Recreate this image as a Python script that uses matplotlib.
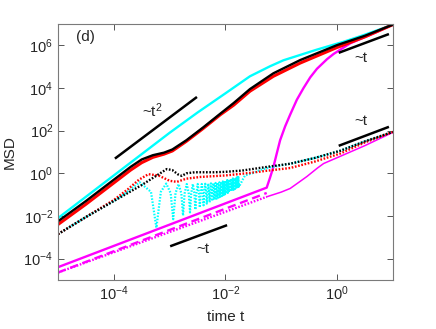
import numpy as np
import matplotlib
matplotlib.use("Agg")
import matplotlib.pyplot as plt
from matplotlib.ticker import LogFormatterMathtext, NullLocator

plt.rcParams['font.family'] = ['Liberation Sans', 'DejaVu Sans']
plt.rcParams['mathtext.fontset'] = 'custom'
plt.rcParams['mathtext.rm'] = 'Liberation Sans'
plt.rcParams['mathtext.it'] = 'Liberation Sans:italic'

# ---- data (log10 time, log10 MSD) ----
cyan_solid_lt = [-5, -4, -3, -2.5, -2, -1.56, -1.2, -0.96, -0.6, -0.36, 0.12, 0.5, 1.0]
cyan_solid_lm = [-2.1, -0.1, 1.9, 2.85, 3.75, 4.55, 5.02, 5.3, 5.6, 5.8, 6.17, 6.5, 6.97]

black_solid_lt = [-5, -4.5, -4, -3.7, -3.5, -3.3, -3.1, -2.95, -2.7, -2.4, -2.09, -1.85, -1.56,
                  -1.14, -0.66, 0.0, 0.5, 1.0]
black_solid_lm = [-2.25, -1.3, -0.3, 0.3, 0.65, 0.85, 0.97, 1.12, 1.55, 2.15, 2.8, 3.3, 3.95,
                  4.69, 5.31, 6.01, 6.45, 6.97]

red_solid_lt = [-5, -4.5, -4, -3.7, -3.5, -3.3, -3.1, -2.95, -2.7, -2.4, -2.09, -1.85, -1.56,
                -1.14, -0.66, 0.0, 0.5, 1.0]
red_solid_lm = [-2.4, -1.45, -0.45, 0.15, 0.5, 0.75, 0.9, 1.05, 1.5, 2.1, 2.75, 3.2, 3.85,
                4.55, 5.17, 5.9, 6.4, 6.97]

black_dot_lt = [-5, -4.5, -4, -3.5, -3.2, -3.05, -2.95, -2.85, -2.78, -2.7, -2.55, -2.45, -2.2,
                -2.0, -1.7, -1.26, -0.84, -0.4, 0.06, 0.5, 1.0]
black_dot_lm = [-2.85, -2.05, -1.3, -0.55, -0.05, 0.2, 0.15, -0.05, -0.12, 0.0, 0.05, 0.05, 0.05,
                0.07, 0.13, 0.3, 0.45, 0.72, 1.06, 1.5, 1.94]

red_dot_lt = [-5, -4.5, -4, -3.75, -3.55, -3.38, -3.2, -3.0, -2.87, -2.7, -2.45, -2.0, -1.56,
              -1.26, -0.84, -0.4, 0.06, 0.5, 1.0]
red_dot_lm = [-2.85, -2.05, -1.25, -0.75, -0.3, -0.04, -0.1, -0.35, -0.4, -0.25, -0.17, -0.1, 0.02,
              0.12, 0.25, 0.55, 0.93, 1.45, 1.94]

# cyan dotted: early rise, then oscillation troughs/peaks, then smooth rise
cyan_dot_early_lt = [-5, -4.5, -4, -3.8, -3.7, -3.6]
cyan_dot_early_lm = [-2.85, -2.05, -1.3, -0.95, -0.75, -0.55]
cyan_trough_t = [5.8e-4, 1.16e-3, 1.74e-3, 2.32e-3, 2.9e-3, 3.48e-3, 4.06e-3, 4.64e-3, 5.22e-3,
                 5.8e-3, 6.38e-3, 6.96e-3, 7.54e-3, 8.12e-3, 8.7e-3, 9.28e-3, 9.86e-3, 1.044e-2,
                 1.102e-2, 1.16e-2, 1.218e-2, 1.276e-2, 1.334e-2, 1.392e-2, 1.45e-2, 1.508e-2,
                 1.566e-2, 1.624e-2, 1.682e-2, 1.74e-2]
cyan_trough_lm = [-2.55, -2.15, -1.98, -1.83, -1.70, -1.60, -1.50, -1.42, -1.36, -1.30, -1.24,
                  -1.19, -1.14, -1.10, -1.06, -1.02, -0.98, -0.95, -0.92, -0.89, -0.86, -0.83,
                  -0.80, -0.77, -0.74, -0.71, -0.68, -0.65, -0.62, -0.6]
cyan_peak_t = [2.9e-4, 8.7e-4, 1.45e-3, 2.03e-3, 2.61e-3, 3.19e-3, 3.77e-3, 4.35e-3, 4.93e-3,
               5.51e-3, 6.09e-3, 6.67e-3, 7.25e-3, 7.83e-3, 8.41e-3, 8.99e-3, 9.57e-3, 1.015e-2,
               1.073e-2, 1.131e-2, 1.189e-2, 1.247e-2, 1.305e-2, 1.363e-2, 1.421e-2, 1.479e-2,
               1.537e-2, 1.595e-2, 1.653e-2, 1.711e-2]
cyan_peak_lm = [-0.42, -0.48, -0.5, -0.5, -0.5, -0.5, -0.5, -0.49, -0.48, -0.47, -0.46, -0.45,
                -0.44, -0.42, -0.4, -0.38, -0.36, -0.34, -0.32, -0.3, -0.28, -0.26, -0.25, -0.24,
                -0.23, -0.22, -0.21, -0.2, -0.19, -0.18]
cyan_dot_late_lt = [-1.65, -1.5, -1.38, -1.2, -0.84, -0.4, 0.06, 0.5, 1.0]
cyan_dot_late_lm = [-0.1, 0.02, 0.15, 0.28, 0.45, 0.72, 1.06, 1.5, 1.94]

mag_solid_lt = [-5, -1.26, -1.2, -1.14, -1.08, -1.02, -0.93, -0.84, -0.72, -0.6, -0.48, -0.36,
                -0.18, -0.06, 0.24, 0.6, 1.0]
mag_solid_lm = [-4.4, -0.67, -0.2, 0.3, 0.93, 1.55, 2.2, 2.75, 3.45, 4.0, 4.5, 4.9,
                5.35, 5.6, 6.1, 6.5, 6.97]

mag_dash_lt = [-5, -1.26]
mag_dash_lm = [-4.65, -0.92]

mag_dot_lt = [-5, -1.26]
mag_dot_lm = [-4.65, -1.1]
mag_thin_lt = [-1.26, -1.0, -0.84, -0.7, -0.54, -0.35, -0.24, 0.06, 0.5, 1.0]
mag_thin_lm = [-1.1, -0.88, -0.71, -0.45, -0.15, 0.25, 0.46, 0.8, 1.3, 1.92]

# guide lines (slopes) and their labels
guide_t2_lt = [-3.98, -2.51]
guide_t2_lm = [0.69, 3.58]
guide_t_up_lt = [0.03, 0.93]
guide_t_up_lm = [5.65, 6.53]
guide_t_mid_lt = [0.03, 0.93]
guide_t_mid_lm = [1.29, 2.18]
guide_t_low_lt = [-2.99, -1.97]
guide_t_low_lm = [-3.42, -2.43]

x_ticks = [1e-4, 1e-2, 1e0]
y_ticks = [1e-4, 1e-2, 1e0, 1e2, 1e4, 1e6]


def p(lt, lm):
    return 10 ** np.asarray(lt, dtype=float), 10 ** np.asarray(lm, dtype=float)


fig = plt.figure(figsize=(4.36, 3.29), dpi=100)
ax = fig.add_axes([0.133, 0.149, 0.768, 0.778])

CYAN = '#00FFFF'
RED = '#FF0000'
MAG = '#FF00FF'
LW = 1.7
dot = (0, (0.7, 0.7))

# magenta group
ax.plot(*p(mag_dot_lt, mag_dot_lm), color=MAG, lw=1.7, linestyle=dot)
ax.plot(*p(mag_thin_lt, mag_thin_lm), color=MAG, lw=1.1)
ax.plot(*p(mag_dash_lt, mag_dash_lm), color=MAG, lw=LW, linestyle=(0, (3.5, 2)))
ax.plot(*p(mag_solid_lt, mag_solid_lm), color=MAG, lw=LW)

# cyan dotted oscillating curve (sharp dips between rounded maxima)
c_lt = list(cyan_dot_early_lt)
c_lm = list(cyan_dot_early_lm)
T_half = cyan_peak_t[0]
for tp, mp, tt, mt in zip(cyan_peak_t, cyan_peak_lm, cyan_trough_t, cyan_trough_lm):
    c_lt += [np.log10(tp), np.log10(tt - 0.4 * T_half), np.log10(tt),
             np.log10(tt + 0.4 * T_half)]
    c_lm += [mp, mp - 0.45, mt, mp - 0.45]
c_lt += cyan_dot_late_lt
c_lm += cyan_dot_late_lm
ax.plot(*p(c_lt, c_lm), color=CYAN, lw=1.6, linestyle=dot)
ax.plot(*p(red_dot_lt, red_dot_lm), color=RED, lw=1.7, linestyle=dot)
ax.plot(*p(black_dot_lt, black_dot_lm), color='black', lw=1.7, linestyle=dot)

# solid group
ax.plot(*p(cyan_solid_lt, cyan_solid_lm), color=CYAN, lw=LW)
ax.plot(*p(red_solid_lt, red_solid_lm), color=RED, lw=2.2)
ax.plot(*p(black_solid_lt, black_solid_lm), color='black', lw=LW)

# guides
for glt, glm in [(guide_t2_lt, guide_t2_lm), (guide_t_up_lt, guide_t_up_lm),
                 (guide_t_mid_lt, guide_t_mid_lm), (guide_t_low_lt, guide_t_low_lm)]:
    ax.plot(*p(glt, glm), color='black', lw=1.8, solid_capstyle='butt')

tc = '#262626'
ax.text(10 ** -3.31, 10 ** 2.92, '~t$^2$', fontsize=11, color=tc, ha='center', va='center')
ax.text(10 ** 0.435, 10 ** 5.43, '~t', fontsize=11, color=tc, ha='center', va='center')
ax.text(10 ** 0.435, 10 ** 2.45, '~t', fontsize=11, color=tc, ha='center', va='center')
ax.text(10 ** -2.40, 10 ** -3.56, '~t', fontsize=11, color=tc, ha='center', va='center')
ax.text(0.081, 0.949, '(d)', transform=ax.transAxes, fontsize=11, color=tc,
        ha='center', va='center')

ax.set_xscale('log')
ax.set_yscale('log')
ax.set_xlim(1e-5, 1e1)
ax.set_ylim(1e-5, 1e7)
ax.set_xticks(x_ticks)
ax.set_yticks(y_ticks)
ax.xaxis.set_major_formatter(LogFormatterMathtext())
ax.yaxis.set_major_formatter(LogFormatterMathtext())
ax.xaxis.set_minor_locator(NullLocator())
ax.yaxis.set_minor_locator(NullLocator())
ax.tick_params(direction='in', length=4, width=0.7, top=True, right=True,
               colors='#555555', labelcolor=tc, labelsize=10.5)
for s in ax.spines.values():
    s.set_color('#7a7a7a')
    s.set_linewidth(0.8)

ax.set_xlabel('time t', fontsize=11, color=tc, labelpad=5)
ax.set_ylabel('MSD', fontsize=11, color=tc, labelpad=5)

fig.savefig('out.png', dpi=100)
